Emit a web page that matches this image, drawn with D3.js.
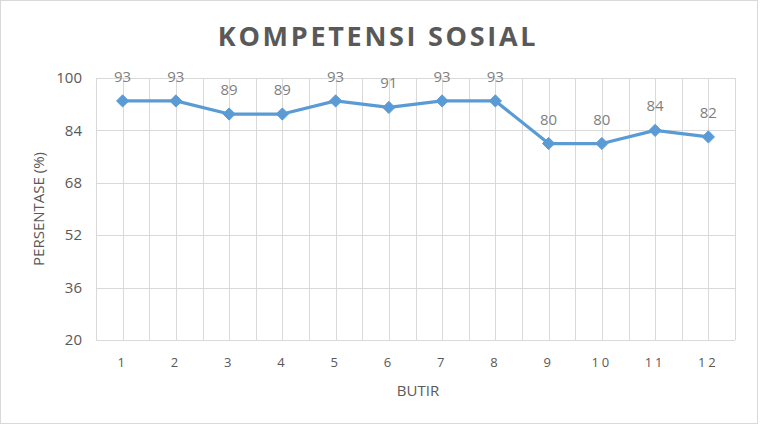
<!DOCTYPE html>
<html>
<head>
<meta charset="utf-8">
<script src="https://cdn.jsdelivr.net/npm/d3@7"></script>
<style>
  body { margin: 0; background: #fff; }
  svg { display: block; font-family: "Open Sans", "Liberation Sans", sans-serif; }
</style>
</head>
<body>
<div id="chart"></div>
<script>
"use strict"

/* chart data */
let butir = ["1", "2", "3", "4", "5", "6", "7", "8", "9", "10", "11", "12"];
let persentase = [93, 93, 89, 89, 93, 91, 93, 93, 80, 80, 84, 82];
let yTicks = [20, 36, 52, 68, 84, 100];

let width = 762, height = 430;
let plot = { left: 96, right: 735, top: 78, bottom: 340 };

let svg = d3.select("#chart")
  .append("svg")
  .attr("width", width)
  .attr("height", height);

/* chart border */
svg.append("rect")
  .attr("x", 0.5).attr("y", 0.5)
  .attr("width", 757).attr("height", 423)
  .attr("fill", "#fff")
  .attr("stroke", "#d9d9d9");

let x = d3.scaleBand()
  .domain(butir)
  .range([plot.left, plot.right]);

let y = d3.scaleLinear()
  .domain([20, 100])
  .range([plot.bottom, plot.top]);

/* horizontal gridlines */
svg.append("g")
  .selectAll("line")
  .data(yTicks)
  .join("line")
  .attr("x1", plot.left).attr("x2", plot.right)
  .attr("y1", d => Math.round(y(d)) + 0.5)
  .attr("y2", d => Math.round(y(d)) + 0.5)
  .attr("stroke", "#d9d9d9");

/* vertical gridlines: category boundaries and centres */
let vLines = [];
butir.forEach(b => {
  vLines.push(x(b));
  vLines.push(x(b) + x.bandwidth() / 2);
});
vLines.push(plot.right);

svg.append("g")
  .selectAll("line")
  .data(vLines)
  .join("line")
  .attr("x1", d => Math.round(d) + 0.5)
  .attr("x2", d => Math.round(d) + 0.5)
  .attr("y1", plot.top).attr("y2", plot.bottom)
  .attr("stroke", "#d9d9d9");

/* y axis labels */
svg.append("g")
  .selectAll("text")
  .data(yTicks)
  .join("text")
  .attr("x", 82)
  .attr("y", d => y(d))
  .attr("dy", "0.35em")
  .attr("text-anchor", "end")
  .attr("font-size", 15)
  .attr("fill", "#595959")
  .text(d => d);

/* x axis labels */
svg.append("g")
  .selectAll("text")
  .data(butir)
  .join("text")
  .attr("x", d => x(d) + x.bandwidth() / 2)
  .attr("y", 367)
  .attr("text-anchor", "middle")
  .attr("font-size", 13)
  .attr("letter-spacing", "3px")
  .attr("fill", "#595959")
  .text(d => d);

/* axis titles */
svg.append("text")
  .attr("x", 418)
  .attr("y", 396)
  .attr("text-anchor", "middle")
  .attr("font-size", 15)
  .attr("fill", "#595959")
  .text("BUTIR");

svg.append("text")
  .attr("transform", "translate(44,209) rotate(-90)")
  .attr("text-anchor", "middle")
  .attr("font-size", 15)
  .attr("fill", "#595959")
  .text("PERSENTASE (%)");

/* chart title */
svg.append("text")
  .attr("x", 378)
  .attr("y", 46)
  .attr("text-anchor", "middle")
  .attr("font-size", 27)
  .attr("font-weight", "bold")
  .attr("letter-spacing", "2.7px")
  .attr("fill", "#595959")
  .text("KOMPETENSI SOSIAL");

/* line */
let line = d3.line()
  .x((d, i) => x(butir[i]) + x.bandwidth() / 2)
  .y(d => y(d));

svg.append("path")
  .datum(persentase)
  .attr("d", line)
  .attr("fill", "none")
  .attr("stroke", "#5b9bd5")
  .attr("stroke-width", 3.25)
  .attr("stroke-linejoin", "round");

/* diamond markers */
svg.append("g")
  .selectAll("path")
  .data(persentase)
  .join("path")
  .attr("transform", (d, i) => `translate(${x(butir[i]) + x.bandwidth() / 2},${y(d)})`)
  .attr("d", d3.symbol(d3.symbolDiamond2, 95))
  .attr("fill", "#5b9bd5")
  .attr("stroke", "#5b9bd5")
  .attr("stroke-width", 1);

/* data labels */
svg.append("g")
  .selectAll("text")
  .data(persentase)
  .join("text")
  .attr("x", (d, i) => x(butir[i]) + x.bandwidth() / 2)
  .attr("y", d => y(d) - 19)
  .attr("text-anchor", "middle")
  .attr("font-size", 15)
  .attr("fill", "#7f7f7f")
  .text(d => d);
</script>
</body>
</html>
